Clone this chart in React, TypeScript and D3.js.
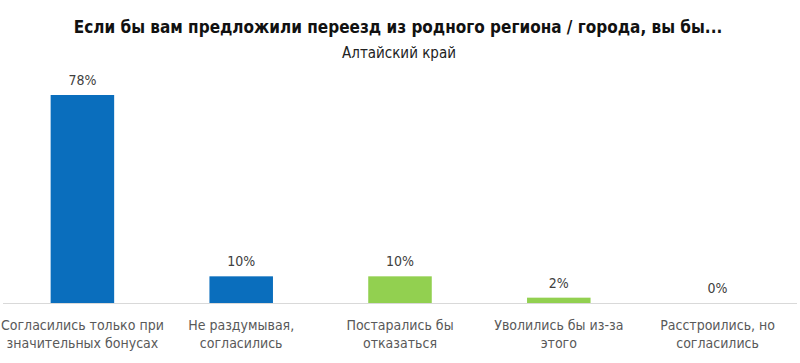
import React from "react";
import * as d3 from "d3";

const categories = [
  ["Согласились только при", "значительных бонусах"],
  ["Не раздумывая,", "согласились"],
  ["Постарались бы", "отказаться"],
  ["Уволились бы из-за", "этого"],
  ["Расстроились, но", "согласились"],
];
const values = [78, 10, 10, 2, 0];
const barColors = ["#0a6ebd", "#0a6ebd", "#92d050", "#92d050", "#92d050"];

const title = "Если бы вам предложили переезд из родного региона / города, вы бы...";
const subtitle = "Алтайский край";

const W = 800;
const H = 363;
const FONT = "'DejaVu Sans', sans-serif";

export default function App() {
  const ref = React.useRef<SVGSVGElement>(null);

  React.useEffect(() => {
    const svg = d3.select(ref.current);
    svg.selectAll("*").remove();

    const x = d3.scaleBand<number>().domain(d3.range(values.length)).range([3, 797]).padding(0);
    const y = d3.scaleLinear().domain([0, 78]).range([303, 95]);
    const barW = x.bandwidth() * 0.4;

    const txt = (sel: any) => sel
      .attr("font-family", FONT)
      .style("font-stretch", "condensed")
      .attr("text-anchor", "middle");

    svg.append("text").call(txt)
      .attr("x", 398).attr("y", 33)
      .attr("font-weight", "bold")
      .attr("font-size", 17)
      .attr("fill", "#111")
      .text(title);

    svg.append("text").call(txt)
      .attr("x", 399).attr("y", 58)
      .attr("font-size", 15)
      .attr("fill", "#222")
      .text(subtitle);

    // bars
    svg.selectAll(".bar")
      .data(values)
      .enter().append("rect")
      .attr("class", "bar")
      .attr("x", (d, i) => x(i)! + x.bandwidth() / 2 - barW / 2)
      .attr("y", d => y(d))
      .attr("width", barW)
      .attr("height", d => y(0) - y(d))
      .attr("fill", (d, i) => barColors[i]);

    // value labels
    svg.selectAll(".val")
      .data(values)
      .enter().append("text")
      .attr("class", "val")
      .call(txt)
      .attr("x", (d, i) => x(i)! + x.bandwidth() / 2)
      .attr("y", d => y(d) - 10)
      .attr("font-size", 14)
      .attr("fill", "#404040")
      .text(d => d + "%");

    // axis line
    svg.append("line")
      .attr("x1", 3).attr("x2", 797)
      .attr("y1", y(0) + 0.5).attr("y2", y(0) + 0.5)
      .attr("stroke", "#d9d9d9")
      .attr("stroke-width", 1);

    // category labels
    const cat = svg.selectAll(".cat")
      .data(categories)
      .enter().append("text")
      .attr("class", "cat")
      .call(txt)
      .attr("font-size", 14)
      .attr("fill", "#595959");
    cat.selectAll("tspan")
      .data((d, i) => d.map(line => ({ line, i })))
      .enter().append("tspan")
      .attr("x", d => x(d.i)! + x.bandwidth() / 2)
      .attr("y", (d, j) => 330 + j * 18)
      .text(d => d.line);
  }, []);

  return (
    <svg ref={ref} width={W} height={H}
      style={{ position: "absolute", left: 0, top: 0, background: "#fff" }} />
  );
}
